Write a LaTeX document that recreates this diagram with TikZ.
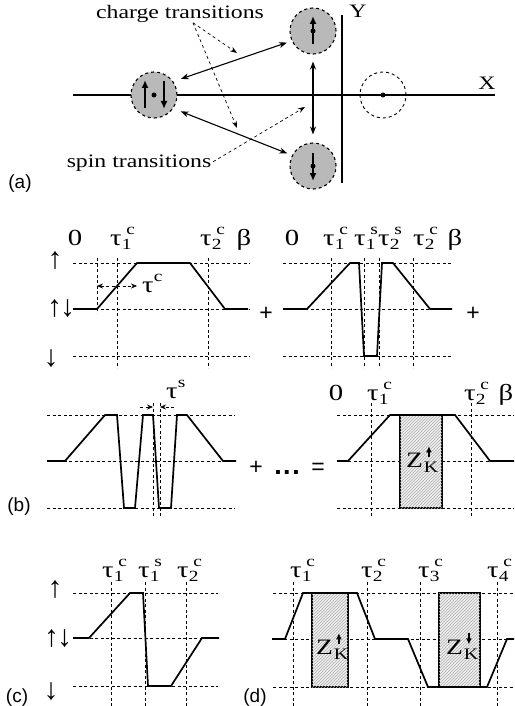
\documentclass[tikz,border=0pt]{standalone}
\usepackage{fontspec}
\setmainfont{Liberation Serif}[FakeStretch=1.25]
\newfontfamily\labfont{Liberation Sans}
\newfontfamily\arrowfont{Liberation Serif}
\usetikzlibrary{arrows.meta,patterns}
\newcommand{\subfont}{\fontsize{15.5}{16}\selectfont}
\newcommand{\tc}[2]{τ\rlap{\raisebox{-0.4ex}{\subfont #1}}\raisebox{0.95ex}{\subfont\kern0.3em #2}}
\newcommand{\ts}[1]{τ\raisebox{0.95ex}{\subfont #1}}
\newcommand{\zk}[1]{Z\rlap{\raisebox{-0.5ex}{\kern1pt\fontsize{16}{16}\selectfont K}}\raisebox{0.9ex}{\kern3pt\tikz\draw[line width=1.2pt,#1] (0pt,0pt) -- (0pt,11pt);}}

\begin{document}
\begin{tikzpicture}[x=1pt, y=-1pt, >={Stealth[length=8pt,width=6pt]},
  state/.style={circle, draw, dashed, line width=1.1pt, fill=gray!55, minimum size=46pt, inner sep=0pt},
  empty/.style={circle, draw, dashed, line width=0.9pt, minimum size=46pt, inner sep=0pt},
  axis/.style={line width=1.3pt},
  move/.style={<->, line width=1.1pt},
  note/.style={->, dashed, line width=0.7pt, >={Stealth[length=7pt,width=5pt]}},
  spin/.style={line width=1.7pt, -{Latex[length=8pt,width=7pt]}},
  grid/.style={line width=0.6pt, dash pattern=on 3pt off 2.5pt},
  span/.style={grid, <->, >={Stealth[length=6pt,width=5pt]}},
  curve/.style={line width=1.7pt},
  hatch/.style={line width=1.7pt, fill=gray!12, postaction={pattern=north east lines, pattern color=gray!65}},
  txt/.style={font=\fontsize{19}{21}\selectfont, inner sep=0pt, anchor=base},
  lab/.style={font=\fontsize{23}{25}\selectfont, inner sep=0pt, anchor=base},
  tau/.style={lab, anchor=base west},
  spinlab/.style={font=\arrowfont\fontsize{30}{30}\selectfont, inner sep=0pt},
  zlab/.style={lab, font=\fontsize{22}{24}\selectfont},
  panel/.style={font=\labfont\fontsize{19}{21}\selectfont, inner sep=0pt, anchor=base},
  sign/.style={panel, font=\labfont\fontsize{23}{25}\selectfont}]
\useasboundingbox (0,0) rectangle (514,706);

% (a) states and transitions
\draw[axis] (73,95) -- (495,95);
\draw[axis] (342,15) -- (342,183);
\node[txt] (ylab) at (358,18) {Y};
\node[txt] (xlab) at (487,90) {X};
\node[state] (ud) at (154,95) {};
\node[state] (up) at (313,31) {};
\node[state] (dn) at (313,166) {};
\node[empty] (vac) at (383,95) {};
\fill (ud) circle (2.5pt);
\fill (up) circle (2.5pt);
\fill (dn) circle (2.5pt);
\fill (vac) circle (2.5pt);
\draw[spin] (145,108) -- (145,80);
\draw[spin] (164,81) -- (164,109);
\draw[spin] (313,44) -- (313,16);
\draw[spin] (313,153) -- (313,181);
\draw[move, shorten <=8pt, shorten >=5pt] (ud.35) -- (up.205);
\draw[move, shorten <=8pt, shorten >=5pt] (ud.-35) -- (dn.153);
\draw[move, shorten <=7pt, shorten >=8pt] (up.south) -- (dn.north);
\node[txt] (chg) at (180,18.5) {charge transitions};
\node[txt] (spn) at (139,167) {spin transitions};
\coordinate (c1) at (237,53);
\coordinate (c2) at (237,128);
\coordinate (s1) at (305,107);
\draw[note] ([xshift=13pt]chg.south) -- (c1);
\draw[note] ([xshift=13pt]chg.south) -- (c2);
\draw[note, shorten <=2pt] (spn.east) -- (s1);
\node[panel] (pa) at (20,188) {(a)};

% (b) first row, left
\draw[grid] (73,263) -- (250,263) (73,309) -- (250,309) (73,356) -- (250,356);
\draw[grid] (97,258) -- (97,313) (117,258) -- (117,368) (208,258) -- (208,368);
\draw[curve] (73,309) -- (97,309) -- (137,263) -- (190,263) -- (225,309) -- (248,309);
\draw[span] (97,286) -- (137,286);
\node[tau] (tcw) at (142,292) {\ts{c}};
\node[lab] (b0) at (75,245) {0};
\node[tau] (bt1) at (110,245) {\tc{1}{c}};
\node[tau] (bt2) at (200,245) {\tc{2}{c}};
\node[lab] (bb) at (244,245) {β};
\node[spinlab] (lup) at (55,261) {↑};
\node[spinlab] (lud) at (61,309) {↑\kern-2pt↓};
\node[spinlab] (ldn) at (51,359) {↓};

% (b) first row, right
\node[sign] (p1) at (266,320) {+};
\draw[grid] (283,263) -- (452,263) (283,309) -- (452,309) (283,356) -- (452,356);
\draw[grid] (331,258) -- (331,368) (364,258) -- (364,368) (379,258) -- (379,368) (413,258) -- (413,368);
\draw[curve] (283,309) -- (307,309) -- (350,263) -- (359,263) -- (364,356) -- (377,356) -- (382,263) -- (393,263) -- (430,309) -- (452,309);
\node[lab] (r0) at (292,245) {0};
\node[tau] (rt1) at (323,245) {\tc{1}{c}};
\node[tau] (rs1) at (354,245) {\tc{1}{s}};
\node[tau] (rs2) at (378,245) {\tc{2}{s}};
\node[tau] (rt2) at (413,245) {\tc{2}{c}};
\node[lab] (rb) at (455,245) {β};
\node[sign] (p2) at (473,320) {+};

% (b) second row, left
\draw[grid] (47,415) -- (235,415) (47,461) -- (235,461) (47,508) -- (235,508);
\draw[grid] (153,403) -- (153,518) (160,403) -- (160,518);
\draw[curve] (47,461) -- (65,461) -- (105,415) -- (117,415) -- (124,508) -- (135,508) -- (143,415) -- (153,415) -- (159,508) -- (171,508) -- (177,415) -- (187,415) -- (223,461) -- (236,461);
\coordinate (sa) at (140,407);
\coordinate (sb) at (174,407);
\draw[span, -{Stealth[length=6pt,width=5pt]}] (sa) -- (153,407);
\draw[span, -{Stealth[length=6pt,width=5pt]}] (sb) -- (160,407);
\node[tau] (tsw) at (166,398) {\ts{s}};
\node[sign] (dots) at (287,474) {+\enspace{\bfseries\fontsize{27}{27}\selectfont.\kern1.5pt.\kern1.5pt.}\enspace=};
\node[panel] (pb) at (19,511) {(b)};

% (b) second row, right
\draw[grid] (337,415) -- (514,415) (337,461) -- (514,461) (337,508) -- (514,508);
\draw[grid] (371,403) -- (371,518) (471,403) -- (471,518);
\draw[hatch] (400,415) rectangle (442,508);
\draw[curve] (337,461) -- (348,461) -- (390,415) -- (455,415) -- (490,461) -- (514,461);
\node[zlab] (zr) at (419,467) {\zk{-{Latex[length=6pt,width=6pt]}}};
\node[lab] (s0) at (336,400) {0};
\node[tau] (st1) at (367,400) {\tc{1}{c}};
\node[tau] (st2) at (464,400) {\tc{2}{c}};
\node[lab] (sbt) at (506,400) {β};

% (c)
\draw[grid] (73,593) -- (218,593) (73,638) -- (218,638) (73,686) -- (218,686);
\draw[grid] (111,582) -- (111,706) (145,582) -- (145,706) (186,582) -- (186,706);
\draw[curve] (73,638) -- (89,638) -- (130,593) -- (143,593) -- (148,686) -- (171,686) -- (202,638) -- (219,638);
\node[tau] (ct1) at (102,577) {\tc{1}{c}};
\node[tau] (cs1) at (138,577) {\tc{1}{s}};
\node[tau] (ct2) at (177,577) {\tc{2}{c}};
\node[spinlab] (cup) at (55,590) {↑};
\node[spinlab] (cud) at (58,639) {↑\kern-2pt↓};
\node[spinlab] (cdn) at (51,692) {↓};
\node[panel] (pc) at (17,702) {(c)};

% (d)
\draw[grid] (273,593) -- (514,593) (273,639) -- (514,639) (273,687) -- (514,687);
\draw[grid] (293,582) -- (293,706) (367,582) -- (367,706) (420,582) -- (420,706) (497,582) -- (497,706);
\draw[hatch] (312,593) rectangle (348,687);
\draw[hatch] (439,593) rectangle (480,687);
\draw[curve] (272,639) -- (285,639) -- (303,593) -- (357,593) -- (375,639) -- (408,639) -- (428,687) -- (487,687) -- (507,639) -- (514,639);
\node[zlab] (zd1) at (329,654) {\zk{-{Latex[length=6pt,width=6pt]}}};
\node[zlab] (zd2) at (459,654) {\zk{{Latex[length=6pt,width=6pt]}-}};
\node[tau] (dt1) at (290,577) {\tc{1}{c}};
\node[tau] (dt2) at (361,577) {\tc{2}{c}};
\node[tau] (dt3) at (418,577) {\tc{3}{c}};
\node[tau] (dt4) at (487,577) {\tc{4}{c}};
\node[panel] (pd) at (255,702) {(d)};
\end{tikzpicture}
\end{document}
